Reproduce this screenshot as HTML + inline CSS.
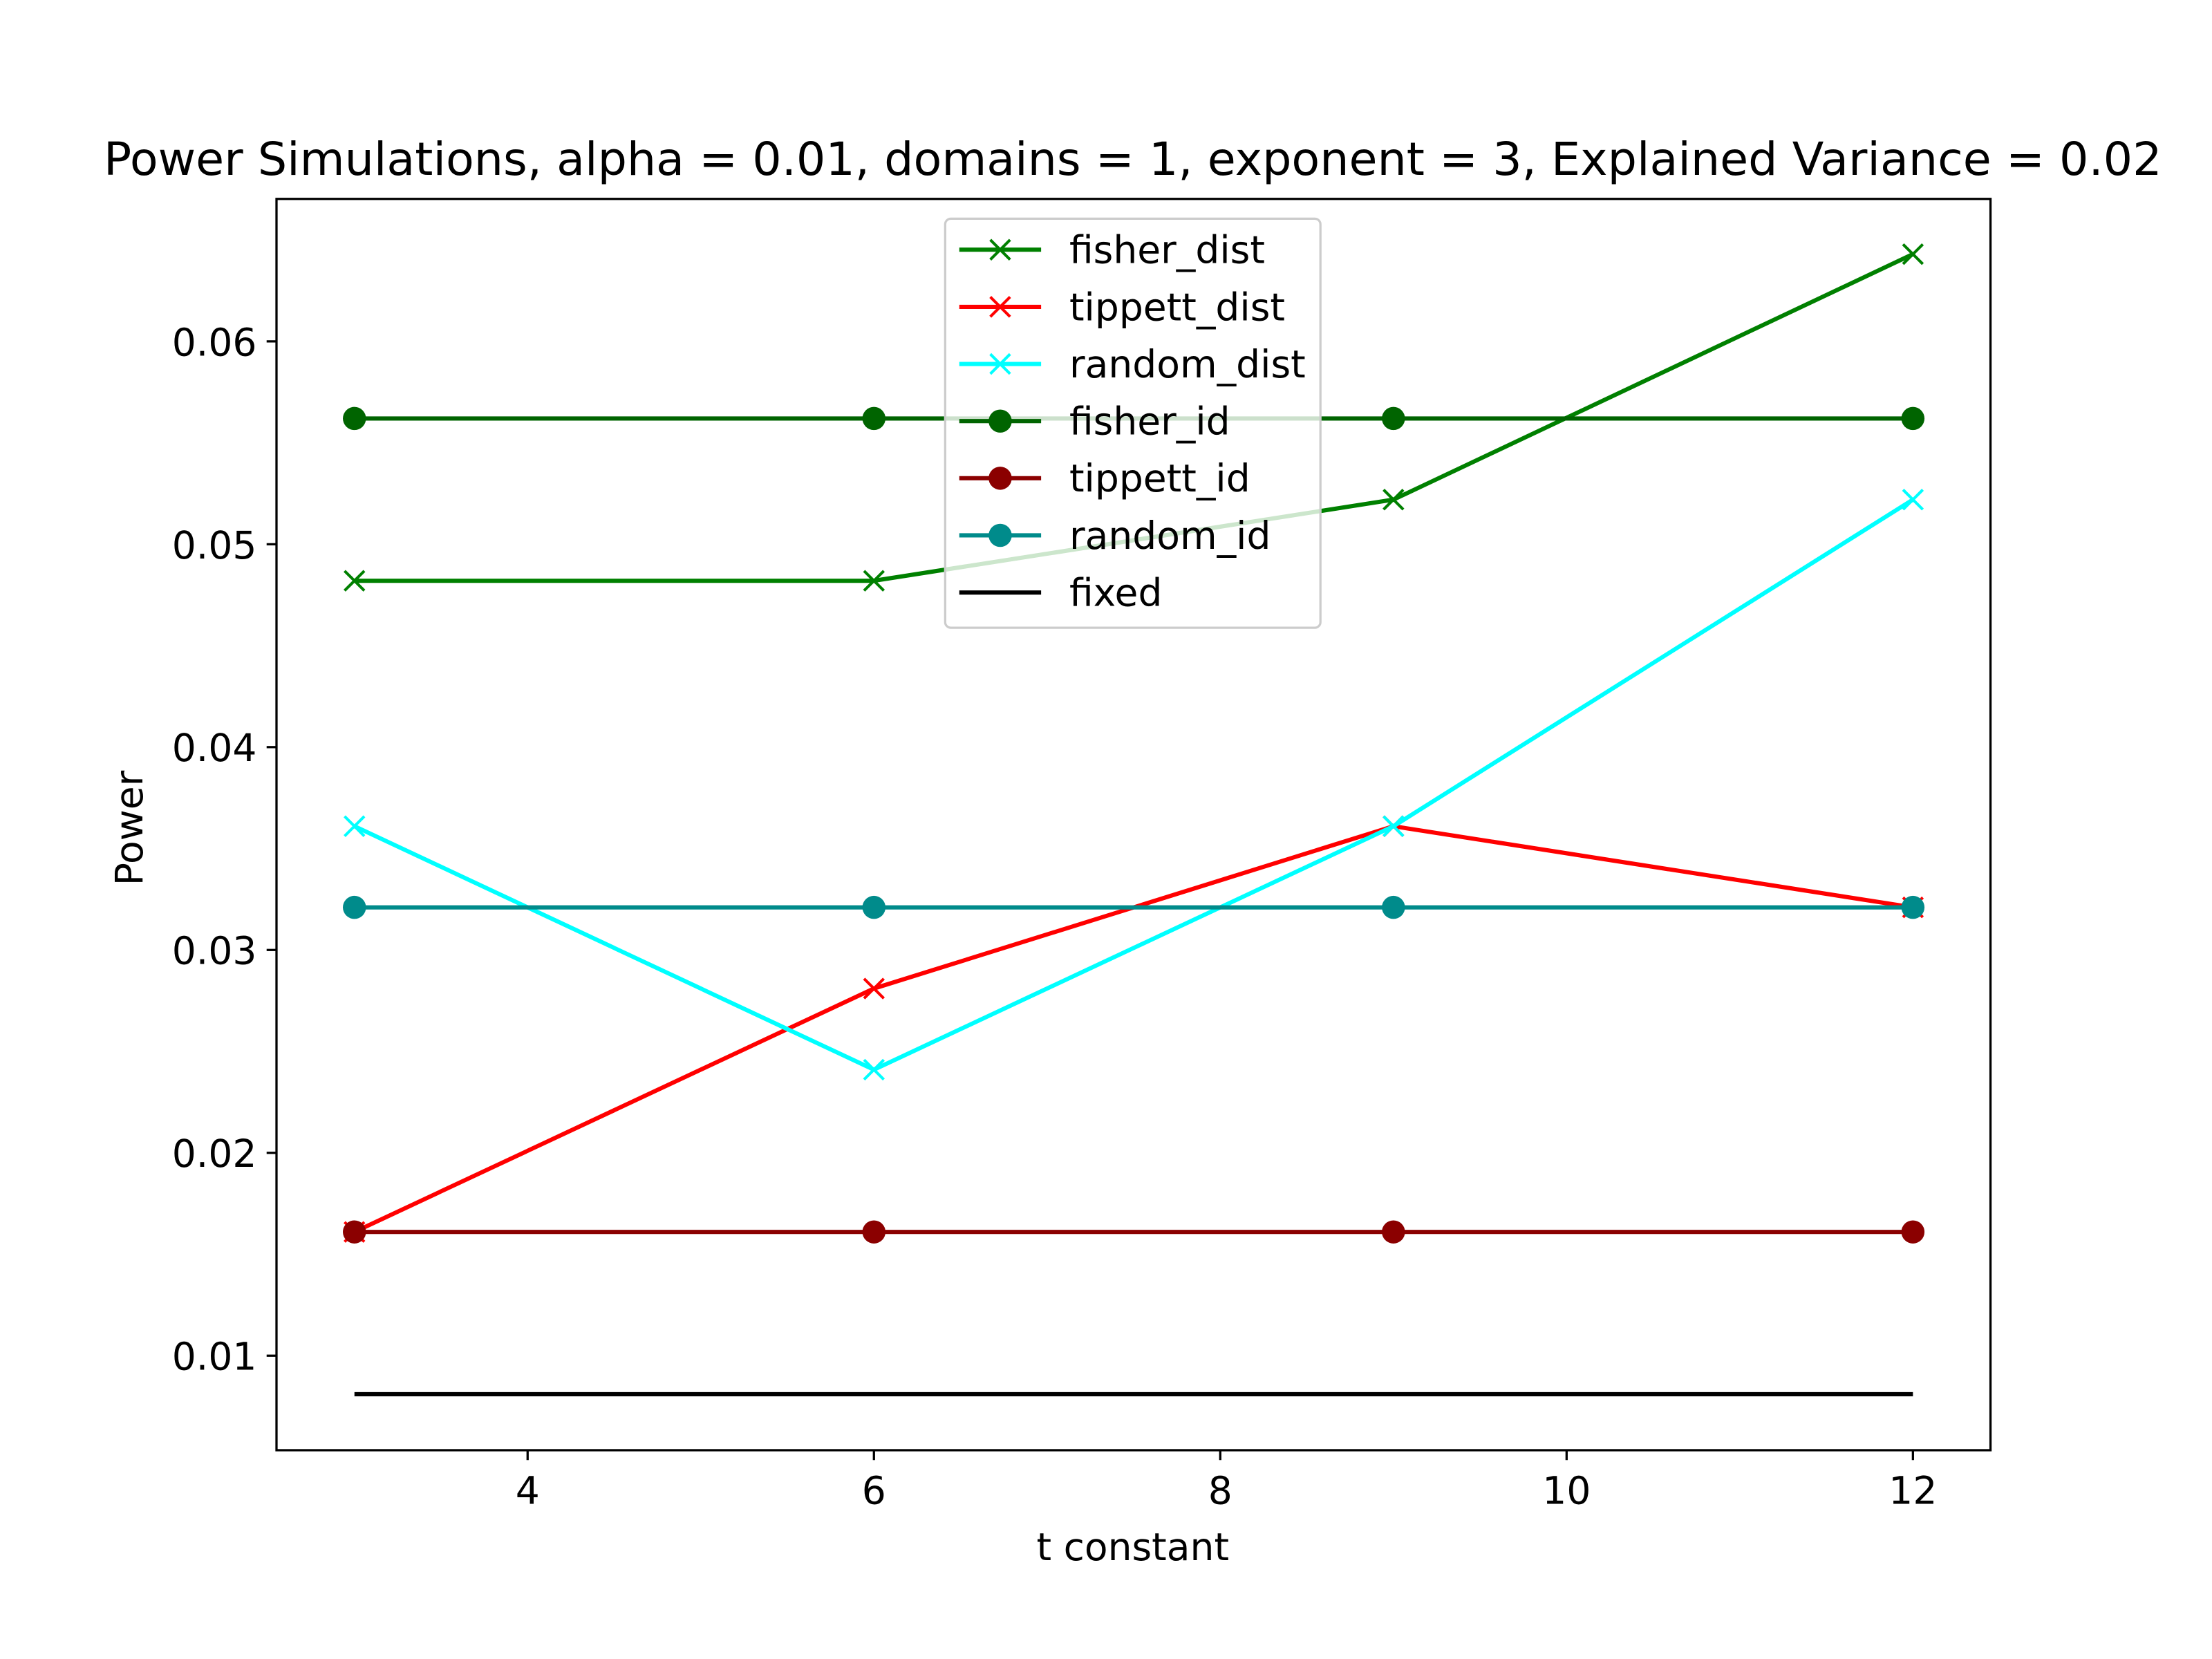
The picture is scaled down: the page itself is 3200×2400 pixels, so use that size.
<!DOCTYPE html>
<html><head><meta charset="utf-8"><style>
html,body{margin:0;padding:0;background:#fff;}
svg{display:block;font-family:"DejaVu Sans","Liberation Sans",sans-serif;}
</style></head><body>
<svg id="chart" width="3200" height="2400" viewBox="0 0 1568 1176" preserveAspectRatio="none" xmlns="http://www.w3.org/2000/svg">
<rect width="1568" height="1176" fill="#fff"/>
<text x="803" y="124" font-size="32.5" text-anchor="middle" textLength="1459" lengthAdjust="spacingAndGlyphs">Power Simulations, alpha = 0.01, domains = 1, exponent = 3, Explained Variance = 0.02</text>
<g id="marks"></g>
<rect x="196" y="141" width="1215" height="887" fill="none" stroke="#000" stroke-width="1.6"/>
<g id="axes"></g>
<text x="803" y="1106" font-size="27" text-anchor="middle">t constant</text>
<text x="0" y="0" font-size="27" text-anchor="middle" transform="translate(101,587) rotate(-90)">Power</text>
<g id="legend"></g>
</svg>
<script>
const xCats=[3,6,9,12];
const fisherDist=[0.0482,0.0482,0.0522,0.0643];
const tippettDist=[0.0161,0.0281,0.0361,0.0321];
const randomDist=[0.0361,0.0241,0.0361,0.0522];
const fisherId=[0.0562,0.0562,0.0562,0.0562];
const tippettId=[0.0161,0.0161,0.0161,0.0161];
const randomId=[0.0321,0.0321,0.0321,0.0321];
const fixedVals=[0.0081,0.0081,0.0081,0.0081];
const xTicks=[4,6,8,10,12];
const yTicks=[0.01,0.02,0.03,0.04,0.05,0.06];
const seriesNames=["fisher_dist","tippett_dist","random_dist","fisher_id","tippett_id","random_id","fixed"];

const NS="http://www.w3.org/2000/svg";
function X(v){return 374+(v-4)*122.75;}
function Y(v){return 961-(v-0.01)/0.01*143.8;}
function mk(t,a,p){const e=document.createElementNS(NS,t);for(const k in a)e.setAttribute(k,a[k]);p.appendChild(e);return e;}
const marks=document.getElementById('marks'),axes=document.getElementById('axes'),leg=document.getElementById('legend');
const series=[
 {n:"fisher_dist",v:fisherDist,c:"#008000",m:"x"},
 {n:"tippett_dist",v:tippettDist,c:"#ff0000",m:"x"},
 {n:"random_dist",v:randomDist,c:"#00ffff",m:"x"},
 {n:"fisher_id",v:fisherId,c:"#006400",m:"o"},
 {n:"tippett_id",v:tippettId,c:"#8b0000",m:"o"},
 {n:"random_id",v:randomId,c:"#008b8b",m:"o"},
 {n:"fixed",v:fixedVals,c:"#000000",m:""}];
function marker(g,m,x,y,c){
 if(m==="x"){const p=mk('path',{d:`M${x-7},${y-7}L${x+7},${y+7}M${x-7},${y+7}L${x+7},${y-7}`,stroke:c,'stroke-width':2,fill:'none'},g);
  }
 else if(m==="o"){const p=mk('circle',{cx:x,cy:y,r:8.2,fill:c},g);
  }
}
series.forEach(s=>{
 const g=mk('g',{},marks);
 
 
 const pl=mk('polyline',{points:s.v.map((v,i)=>X(xCats[i])+','+Y(v)).join(' '),fill:'none',stroke:s.c,'stroke-width':3,'stroke-linejoin':'round'},g);
 
 
 s.v.forEach((v,i)=>marker(g,s.m,X(xCats[i]),Y(v),s.c));
});
xTicks.forEach(t=>{
 const l=mk('line',{x1:X(t),x2:X(t),y1:1028,y2:1035,stroke:'#000','stroke-width':1.6},axes);
 
 const tx=mk('text',{x:X(t),y:1066,'font-size':27,'text-anchor':'middle'},axes);tx.textContent=t;
 
});
yTicks.forEach(t=>{
 const l=mk('line',{x1:189,x2:196,y1:Y(t),y2:Y(t),stroke:'#000','stroke-width':1.6},axes);
 
 const tx=mk('text',{x:182,y:Y(t)+10,'font-size':27,'text-anchor':'end'},axes);tx.textContent=t.toFixed(2);
 
});
const box=mk('rect',{x:670,y:155,width:266,height:290,rx:4,fill:'#fff','fill-opacity':0.8,stroke:'#ccc','stroke-width':1.6},leg);

series.forEach((s,i)=>{
 const y=177+i*40.5;
 const g=mk('g',{},leg);
 
 mk('line',{x1:680,x2:738,y1:y,y2:y,stroke:s.c,'stroke-width':3},g);
 marker(g,s.m,709,y,s.c);
 const tx=mk('text',{x:758,y:y+9.5,'font-size':27},g);tx.textContent=seriesNames[i];
 
});
</script>
</body></html>
